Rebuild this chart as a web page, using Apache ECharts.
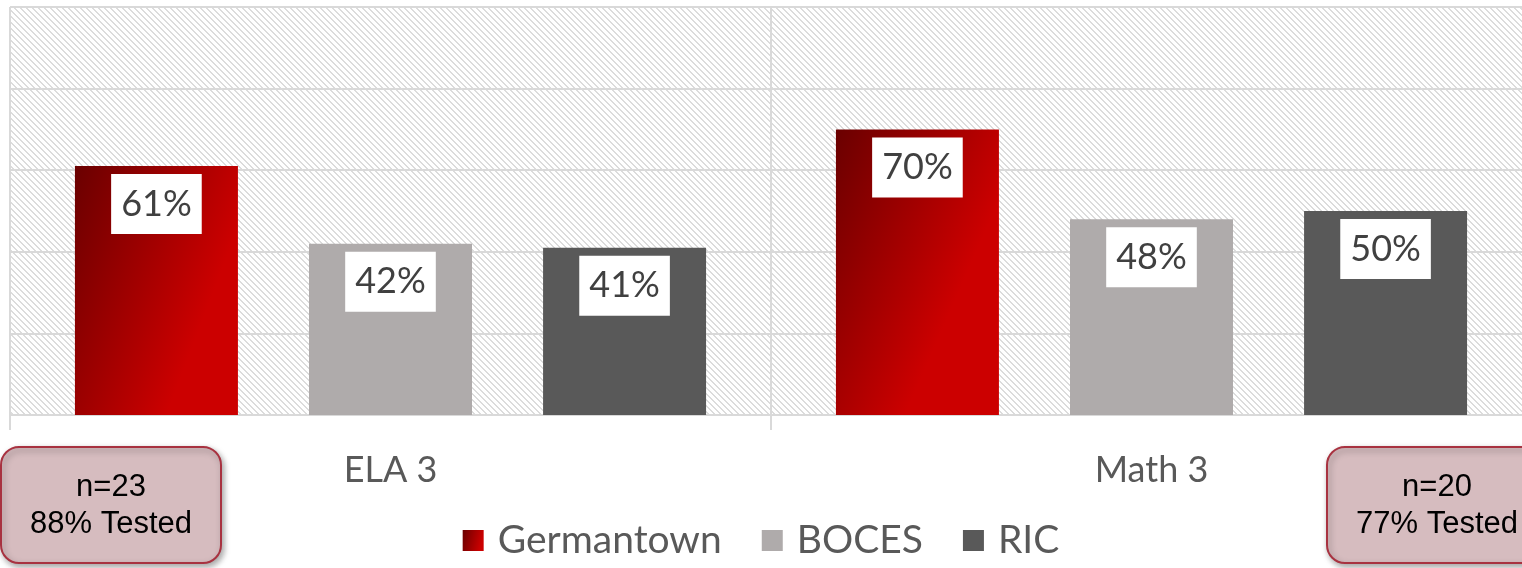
<!DOCTYPE html>
<html>
<head>
<meta charset="utf-8">
<script src="https://cdn.jsdelivr.net/npm/echarts@6/dist/echarts.min.js"></script>
<style>
  html, body { margin: 0; padding: 0; background: #fff; }
  #main { width: 1522px; height: 568px; }
</style>
</head>
<body>
<div id="main"></div>
<script>
// data
const categories = ['ELA 3', 'Math 3']
const seriesNames = ['Germantown', 'BOCES', 'RIC']
const germantown = [61, 70]
const boces = [42, 48]
const ric = [41, 50]
const notes = ['n=23\n88% Tested', 'n=20\n77% Tested']

// light diagonal hatch for the plot background
function hatch() {
  const n = 6
  const c = document.createElement('canvas')
  c.width = n
  c.height = n
  const ctx = c.getContext('2d')
  ctx.fillStyle = '#ffffff'
  ctx.fillRect(0, 0, n, n)
  ctx.fillStyle = '#dcdcdc'
  for (let y = 0; y < n; y++) {
    for (let x = 0; x < n; x++) {
      if ((x - y + n) % n < 2 && (x + y) % 2 === 0) ctx.fillRect(x, y, 1, 1)
      else if ((x - y + n) % n === 1) ctx.fillRect(x, y, 1, 1)
    }
  }
  return c
}

const redGrad = new echarts.graphic.LinearGradient(0, 0, 1, 0.25, [
  { offset: 0, color: '#6a0000' },
  { offset: 1, color: '#cc0000' }
])
const colors = [redGrad, '#afabab', '#595959']

const label = {
  show: true,
  position: 'insideTop',
  distance: 8,
  formatter: '{c}%',
  backgroundColor: '#ffffff',
  padding: [12, 10],
  color: '#404040',
  fontSize: 36,
  fontFamily: 'Lato'
}

function bar(name, data, i) {
  return {
    name: name,
    type: 'bar',
    data: data,
    barWidth: 163,
    barGap: '43.6%',
    itemStyle: { color: colors[i] },
    label: label
  }
}

function noteBox(x, text) {
  return {
    type: 'group',
    left: x,
    top: 446,
    children: [{
      type: 'rect',
      shape: { x: 0, y: 0, width: 220, height: 116, r: 18 },
      style: {
        fill: '#d6bcbf',
        stroke: '#a83240',
        lineWidth: 2,
        shadowBlur: 6,
        shadowOffsetX: 2,
        shadowOffsetY: 3,
        shadowColor: 'rgba(0,0,0,0.35)'
      }
    }, {
      type: 'text',
      x: 110,
      y: 59,
      style: {
        text: text,
        align: 'center',
        verticalAlign: 'middle',
        fill: '#000',
        font: '31px "Liberation Sans", Arial',
        lineHeight: 37
      }
    }]
  }
}

const chart = echarts.init(document.getElementById('main'))
chart.setOption({
  animation: false,
  grid: {
    left: 10,
    top: 7,
    width: 1522,
    bottom: 153,
    outerBoundsMode: 'none',
    show: true,
    borderWidth: 0,
    backgroundColor: { image: hatch(), repeat: 'repeat' }
  },
  legend: {
    bottom: 3,
    left: 'center',
    itemWidth: 21,
    itemHeight: 21,
    itemGap: 40,
    icon: 'rect',
    data: seriesNames,
    textStyle: { fontSize: 39, color: '#595959', fontFamily: 'Lato', padding: [0, 0, 0, 9] }
  },
  xAxis: {
    type: 'category',
    data: categories,
    axisLine: { lineStyle: { color: '#d9d9d9', width: 2 } },
    axisTick: { show: true, length: 15, lineStyle: { color: '#d9d9d9', width: 2 } },
    splitLine: { show: true, lineStyle: { color: '#d9d9d9', width: 2 } },
    axisLabel: { margin: 37, fontSize: 36, color: '#595959', fontFamily: 'Lato' }
  },
  yAxis: {
    type: 'value',
    min: 0,
    max: 100,
    interval: 20,
    axisLabel: { show: false },
    axisLine: { show: false },
    axisTick: { show: false },
    splitLine: { lineStyle: { color: '#d9d9d9', width: 2 } }
  },
  series: [
    bar(seriesNames[0], germantown, 0),
    bar(seriesNames[1], boces, 1),
    bar(seriesNames[2], ric, 2)
  ],
  graphic: [noteBox(0, notes[0]), noteBox(1326, notes[1])]
})
</script>
</body>
</html>
